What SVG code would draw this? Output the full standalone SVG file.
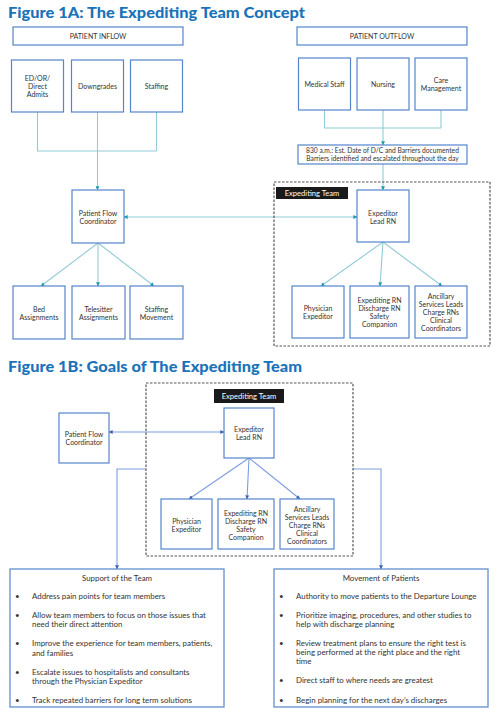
<svg xmlns="http://www.w3.org/2000/svg" width="500" height="716" viewBox="0 0 500 716">
<defs>
<style>
.title{font-family:Lato,"Liberation Sans",sans-serif;font-weight:900;font-size:15.5px;fill:#1a73b9}
.box{fill:#fff;stroke:#5585cc;stroke-width:1.2}
.t{font-family:Lato,"Liberation Sans",sans-serif;font-size:7px;fill:#333;text-anchor:middle}
.s{font-family:Lato,"Liberation Sans",sans-serif;font-size:6.7px;fill:#333;text-anchor:middle}
.b{font-family:Lato,"Liberation Sans",sans-serif;font-size:7.9px;fill:#333}
.bc{font-family:Lato,"Liberation Sans",sans-serif;font-size:7.9px;fill:#333;text-anchor:middle}
.dash{fill:none;stroke:#555;stroke-width:1.2;stroke-dasharray:2.5,1.5}
.lbl{fill:#1a1a1a}
.lt{font-family:Lato,"Liberation Sans",sans-serif;font-size:7.6px;fill:#fff;text-anchor:middle}
.ca{fill:none;stroke:#92cbd7;stroke-width:1.1}
.cb{fill:none;stroke:#7d9de0;stroke-width:1.1}
</style>
<marker id="ta" viewBox="0 0 6 6" refX="5.5" refY="3" markerWidth="4" markerHeight="4" orient="auto-start-reverse" markerUnits="userSpaceOnUse"><path d="M0,0 L6,3 L0,6 z" fill="#1c9db3"/></marker>
<marker id="ba" viewBox="0 0 6 6" refX="5.5" refY="3" markerWidth="4" markerHeight="4" orient="auto-start-reverse" markerUnits="userSpaceOnUse"><path d="M0,0 L6,3 L0,6 z" fill="#3a62bd"/></marker>
</defs>

<text class="title" x="8" y="18" textLength="297" lengthAdjust="spacingAndGlyphs">Figure 1A: The Expediting Team Concept</text>
<text class="title" x="8" y="372" textLength="294" lengthAdjust="spacingAndGlyphs">Figure 1B: Goals of The Expediting Team</text>

<g id="connectors">
<!-- 1A -->
<path class="ca" d="M37.5,112 V151 H156.5 M97.5,112 V151 M156.5,112 V151"/>
<path class="ca" d="M97.5,151 V190" marker-end="url(#ta)"/>
<path class="ca" d="M324.5,110 V128 H441 M383,110 V128 M441,110 V128"/>
<path class="ca" d="M383,128 V145" marker-end="url(#ta)"/>
<path class="ca" d="M383,164 V190" marker-end="url(#ta)"/>
<path class="ca" d="M124,217 H357" marker-start="url(#ta)" marker-end="url(#ta)"/>
<path class="ca" d="M98,243 L41,286" marker-end="url(#ta)"/>
<path class="ca" d="M98,243 L98,286" marker-end="url(#ta)"/>
<path class="ca" d="M98,243 L154,286" marker-end="url(#ta)"/>
<path class="ca" d="M383,242 L321,286" marker-end="url(#ta)"/>
<path class="ca" d="M383,242 L380,286" marker-end="url(#ta)"/>
<path class="ca" d="M383,242 L442,286" marker-end="url(#ta)"/>
<!-- 1B -->
<path class="cb" d="M109,432 H224" marker-start="url(#ba)" marker-end="url(#ba)"/>
<path class="cb" d="M249,458 L189,499" marker-end="url(#ba)"/>
<path class="cb" d="M249,458 L247,499" marker-end="url(#ba)"/>
<path class="cb" d="M249,458 L300,499" marker-end="url(#ba)"/>
<path class="cb" d="M146,469 H117 V569" marker-end="url(#ba)"/>
<path class="cb" d="M353,469 H381 V569" marker-end="url(#ba)"/>
</g>

<!-- Figure 1A -->
<g id="patient-inflow"><rect class="box" x="13" y="27" width="170" height="18"/><text class="t" x="98" y="38.5">PATIENT INFLOW</text></g>
<g id="patient-outflow"><rect class="box" x="297" y="27" width="170" height="18"/><text class="t" x="382" y="38.5">PATIENT OUTFLOW</text></g>
<g id="ed-or"><rect class="box" x="11.5" y="60" width="52" height="52"/><text class="t" x="37.5" y="80.5">ED/OR/</text><text class="t" x="37.5" y="88.5">Direct</text><text class="t" x="37.5" y="96.5">Admits</text></g>
<g id="downgrades"><rect class="box" x="71.5" y="60" width="52" height="52"/><text class="t" x="97.5" y="88.5">Downgrades</text></g>
<g id="staffing"><rect class="box" x="130.5" y="60" width="52" height="52"/><text class="t" x="156.5" y="88.5">Staffing</text></g>
<g id="medical-staff"><rect class="box" x="298.5" y="58" width="52" height="52"/><text class="t" x="324.5" y="86.5">Medical Staff</text></g>
<g id="nursing"><rect class="box" x="357" y="58" width="52" height="52"/><text class="t" x="383" y="86.5">Nursing</text></g>
<g id="care-management"><rect class="box" x="415" y="58" width="52" height="52"/><text class="t" x="441" y="82.5">Care</text><text class="t" x="441" y="90.5">Management</text></g>
<g id="barriers"><rect class="box" x="298" y="145" width="169" height="19"/><text class="s" x="382.5" y="153.3">830 a.m.: Est. Date of D/C and Barriers documented</text><text class="s" x="382.5" y="161.3">Barriers identified and escalated throughout the day</text></g>
<g id="pfc-a"><rect class="box" x="72" y="190" width="52" height="53"/><text class="t" x="98" y="215.5">Patient Flow</text><text class="t" x="98" y="223.5">Coordinator</text></g>
<g id="team-a"><rect class="dash" x="274" y="182" width="216" height="164"/><rect class="lbl" x="276" y="187" width="72" height="12"/><text class="lt" x="312" y="195.7">Expediting Team</text></g>
<g id="lead-a"><rect class="box" x="357" y="190" width="52" height="52"/><text class="t" x="383" y="215.5">Expeditor</text><text class="t" x="383" y="223.5">Lead RN</text></g>
<g id="bed"><rect class="box" x="13" y="286" width="52" height="53"/><text class="t" x="39" y="311.5">Bed</text><text class="t" x="39" y="319.5">Assignments</text></g>
<g id="telesitter"><rect class="box" x="72" y="286" width="53" height="53"/><text class="t" x="98.5" y="311.5">Telesitter</text><text class="t" x="98.5" y="319.5">Assignments</text></g>
<g id="staffing-movement"><rect class="box" x="130" y="286" width="53" height="53"/><text class="t" x="156.5" y="311.5">Staffing</text><text class="t" x="156.5" y="319.5">Movement</text></g>
<g id="phys-a"><rect class="box" x="292" y="286" width="52" height="52"/><text class="t" x="318" y="311">Physician</text><text class="t" x="318" y="319">Expeditor</text></g>
<g id="rn-a"><rect class="box" x="350" y="286" width="59" height="52"/><text class="t" x="379.5" y="303">Expediting RN</text><text class="t" x="379.5" y="311">Discharge RN</text><text class="t" x="379.5" y="319">Safety</text><text class="t" x="379.5" y="327">Companion</text></g>
<g id="anc-a"><rect class="box" x="415" y="286" width="52" height="52"/><text class="t" x="441" y="299">Ancillary</text><text class="t" x="441" y="307">Services Leads</text><text class="t" x="441" y="315">Charge RNs</text><text class="t" x="441" y="323">Clinical</text><text class="t" x="441" y="331">Coordinators</text></g>

<!-- Figure 1B -->
<g id="team-b"><rect class="dash" x="146" y="383" width="207" height="173"/><rect class="lbl" x="214" y="389" width="70" height="14"/><text class="lt" x="249" y="398.8">Expediting Team</text></g>
<g id="pfc-b"><rect class="box" x="59" y="413" width="50" height="50"/><text class="t" x="84" y="436.5">Patient Flow</text><text class="t" x="84" y="444.5">Coordinator</text></g>
<g id="lead-b"><rect class="box" x="224" y="408" width="50" height="50"/><text class="t" x="249" y="431.5">Expeditor</text><text class="t" x="249" y="439.5">Lead RN</text></g>
<g id="phys-b"><rect class="box" x="161" y="499" width="51" height="50"/><text class="t" x="186.5" y="523.5">Physician</text><text class="t" x="186.5" y="531.5">Expeditor</text></g>
<g id="rn-b"><rect class="box" x="218" y="499" width="56" height="50"/><text class="t" x="246" y="515.5">Expediting RN</text><text class="t" x="246" y="523.5">Discharge RN</text><text class="t" x="246" y="531.5">Safety</text><text class="t" x="246" y="539.5">Companion</text></g>
<g id="anc-b"><rect class="box" x="280" y="499" width="54" height="50"/><text class="t" x="307" y="511.5">Ancillary</text><text class="t" x="307" y="519.5">Services Leads</text><text class="t" x="307" y="527.5">Charge RNs</text><text class="t" x="307" y="535.5">Clinical</text><text class="t" x="307" y="543.5">Coordinators</text></g>

<g id="support">
<rect class="box" x="10" y="569" width="214" height="138"/>
<text class="bc" x="117" y="580.5">Support of the Team</text>
<text class="b" x="15" y="599">•</text><text class="b" x="32" y="599">Address pain points for team members</text>
<text class="b" x="15" y="618">•</text><text class="b" x="32" y="618">Allow team members to focus on those issues that</text><text class="b" x="32" y="627">need their direct attention</text>
<text class="b" x="15" y="646">•</text><text class="b" x="32" y="646">Improve the experience for team members, patients,</text><text class="b" x="32" y="655.5">and families</text>
<text class="b" x="15" y="675">•</text><text class="b" x="32" y="675">Escalate issues to hospitalists and consultants</text><text class="b" x="32" y="684">through the Physician Expeditor</text>
<text class="b" x="15" y="703">•</text><text class="b" x="32" y="703">Track repeated barriers for long term solutions</text>
</g>
<g id="movement">
<rect class="box" x="274" y="569" width="214" height="138"/>
<text class="bc" x="381" y="580.5">Movement of Patients</text>
<text class="b" x="279" y="599">•</text><text class="b" x="296" y="599">Authority to move patients to the Departure Lounge</text>
<text class="b" x="279" y="618">•</text><text class="b" x="296" y="618">Prioritize imaging, procedures, and other studies to</text><text class="b" x="296" y="627">help with discharge planning</text>
<text class="b" x="279" y="646">•</text><text class="b" x="296" y="646">Review treatment plans to ensure the right test is</text><text class="b" x="296" y="655">being performed at the right place and the right</text><text class="b" x="296" y="664">time</text>
<text class="b" x="279" y="683">•</text><text class="b" x="296" y="683">Direct staff to where needs are greatest</text>
<text class="b" x="279" y="703">•</text><text class="b" x="296" y="703">Begin planning for the next day’s discharges</text>
</g>
</svg>
